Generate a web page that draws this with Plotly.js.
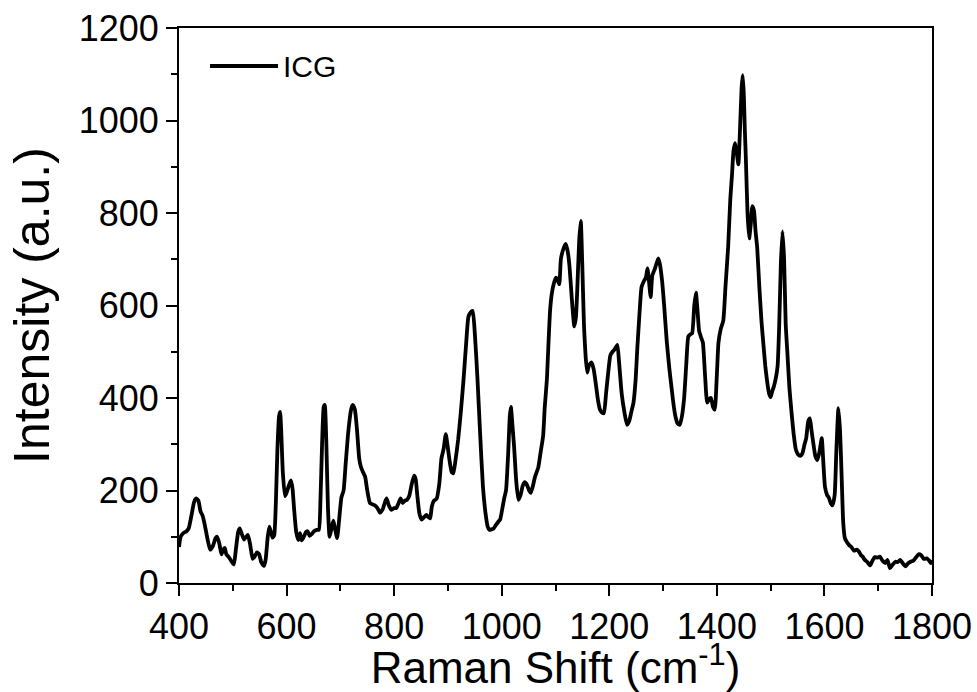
<!DOCTYPE html>
<html>
<head>
<meta charset="utf-8">
<script src="https://cdn.plot.ly/plotly-3.0.1.min.js"></script>
<style>html,body{margin:0;padding:0;background:#fff}#chart{width:977px;height:692px}</style>
</head>
<body>
<div id="chart"></div>
<script>
const ramanShift = [400,403,408,414,418,423,428,432,436,440,444,448,453,458,463,468,471,475,479,482,485,488,492,497,502,506,510,513,517,521,525,528,532,537,541,545,549,553,558,561,565,568,571,574,577,580,583,586,588,590,593,597,600,604,608,611,614,618,622,625,628,632,636,639,643,647,651,656,660,663,666,669,671,674,677,680,684,687,690,694,698,702,706,710,715,720,723,727,731,735,738,742,746,750,755,760,764,769,774,779,783,786,790,795,800,804,808,812,816,820,824,828,832,837,840,843,847,851,856,860,864,867,870,874,879,884,888,892,896,899,903,907,910,914,919,924,929,934,938,942,946,950,955,960,965,970,974,977,981,985,989,994,997,1001,1005,1008,1012,1015,1017,1020,1023,1027,1031,1035,1039,1043,1047,1051,1054,1058,1062,1068,1072,1077,1080,1084,1087,1090,1093,1097,1101,1104,1107,1110,1114,1119,1123,1126,1130,1135,1138,1141,1144,1147,1150,1153,1156,1159,1162,1167,1171,1175,1179,1183,1187,1190,1194,1198,1202,1206,1210,1215,1218,1223,1228,1233,1237,1241,1245,1249,1252,1256,1260,1264,1268,1271,1274,1277,1280,1285,1291,1294,1298,1302,1307,1312,1316,1319,1323,1327,1331,1335,1339,1343,1347,1351,1354,1358,1361,1364,1367,1371,1374,1378,1382,1386,1389,1393,1396,1400,1403,1407,1412,1416,1421,1425,1428,1431,1434,1437,1440,1443,1446,1448,1450,1452,1454,1457,1460,1463,1466,1469,1472,1475,1479,1483,1487,1490,1493,1497,1500,1503,1506,1510,1513,1516,1519,1522,1525,1528,1531,1535,1539,1543,1547,1551,1555,1559,1563,1566,1570,1573,1576,1579,1583,1587,1591,1595,1598,1601,1605,1608,1612,1615,1619,1622,1626,1629,1632,1635,1638,1642,1646,1650,1655,1660,1664,1668,1671,1675,1680,1685,1690,1694,1699,1703,1708,1713,1717,1722,1727,1732,1736,1741,1746,1751,1755,1760,1765,1770,1775,1780,1785,1791,1795,1798,1800];
const intensity = [78,100,108,112,118,145,175,183,178,155,145,125,95,72,80,97,100,85,62,72,76,62,57,48,40,75,110,118,105,94,100,104,85,52,58,66,62,45,37,50,100,122,110,98,103,170,290,360,370,330,240,188,195,210,222,205,160,110,93,108,92,100,110,112,102,106,112,115,115,180,300,380,385,300,160,100,120,135,118,97,140,185,200,260,330,375,385,375,330,270,252,240,230,200,173,170,168,162,152,160,175,183,168,158,162,162,172,183,173,178,180,188,210,232,225,190,150,137,143,147,142,140,165,178,182,215,270,290,322,300,265,240,237,265,310,370,440,520,575,585,588,540,440,320,210,150,122,115,116,118,125,133,137,160,185,200,280,360,381,340,295,220,180,190,210,218,212,200,195,210,230,250,280,318,380,440,520,590,625,648,660,655,646,700,720,733,715,685,620,555,575,650,740,783,680,555,490,455,470,477,462,430,395,374,368,367,410,455,492,500,505,515,480,410,370,342,350,370,390,440,505,580,640,652,660,680,650,618,665,680,702,690,655,600,520,460,420,390,360,345,342,360,398,470,533,538,540,600,628,590,545,530,520,450,390,398,400,380,375,450,520,548,568,640,727,830,880,935,951,930,905,980,1070,1098,1060,980,915,800,745,775,815,805,760,725,640,565,510,470,440,410,402,415,425,445,470,560,690,760,700,560,500,420,367,320,288,278,275,280,300,312,350,356,330,305,275,266,285,313,260,208,190,185,172,168,190,280,378,330,230,130,97,88,82,78,70,72,68,60,57,50,45,38,50,56,55,57,48,43,50,32,40,46,45,50,42,36,42,46,48,55,62,60,52,53,48,43,50];
const seriesName = 'ICG';
const xTicks = [400,600,800,1000,1200,1400,1600,1800];
const yTicks = [0,200,400,600,800,1000,1200];

const font = 'Liberation Sans, Arial, sans-serif';
const trace = {
  x: ramanShift, y: intensity, type: 'scatter', mode: 'lines',
  name: seriesName,
  line: {color: '#000', width: 3.8, shape: 'spline', smoothing: 0.5},
  showlegend: false
};
const layout = {
  width: 977, height: 692,
  margin: {l: 179, r: 45, t: 28, b: 109},
  paper_bgcolor: '#fff', plot_bgcolor: '#fff',
  font: {family: font, color: '#000'},
  xaxis: {
    range: [400, 1800], tickvals: xTicks, ticktext: xTicks.map(String),
    ticks: 'outside', ticklen: 11, tickwidth: 2, tickcolor: '#000',
    showline: true, linewidth: 2, linecolor: '#000', mirror: true,
    showgrid: false, zeroline: false,
    tickfont: {size: 36, family: font},
    minor: {dtick: 100, tick0: 400, ticks: 'outside', ticklen: 6, tickwidth: 2, tickcolor: '#000', showgrid: false},
    title: {text: 'Raman Shift (cm<sup>-1</sup>)', font: {size: 44, family: font}, standoff: 6}
  },
  yaxis: {
    range: [0, 1200], tickvals: yTicks, ticktext: yTicks.map(String),
    ticks: 'outside', ticklen: 11, tickwidth: 2, tickcolor: '#000',
    showline: true, linewidth: 2, linecolor: '#000', mirror: true,
    showgrid: false, zeroline: false,
    tickfont: {size: 36, family: font},
    minor: {dtick: 100, tick0: 0, ticks: 'outside', ticklen: 6, tickwidth: 2, tickcolor: '#000', showgrid: false},
    title: {text: 'Intensity (a.u.)', font: {size: 50, family: font}, standoff: 13}
  },
  shapes: [{type: 'line', xref: 'paper', yref: 'paper', x0: 0.0412, x1: 0.1315, y0: 0.9315, y1: 0.9315, line: {color: '#000', width: 4}}],
  annotations: [{xref: 'paper', yref: 'paper', x: 0.136, y: 0.9315, xanchor: 'left', yanchor: 'middle', text: seriesName, showarrow: false, font: {size: 30, family: font, color: '#000'}}]
};
Plotly.newPlot('chart', [trace], layout, {displayModeBar: false, staticPlot: true});
</script>
</body>
</html>
